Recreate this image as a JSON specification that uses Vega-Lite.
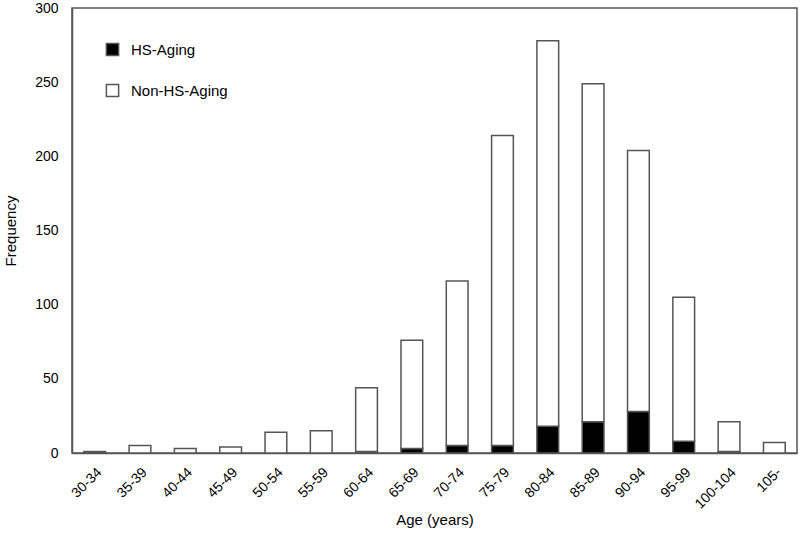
{
  "$schema": "https://vega.github.io/schema/vega-lite/v6.json",
  "autosize": "none",
  "padding": {"left": 72, "top": 8, "right": 3, "bottom": 84},
  "width": 725,
  "height": 445,
  "background": "white",
  "config": {
    "font": "Liberation Sans",
    "view": {"stroke": "#555", "strokeWidth": 1.5},
    "axis": {"domainColor": "#555", "domainWidth": 1.5, "ticks": false, "grid": false, "labelColor": "black", "titleColor": "black", "titleFontWeight": "normal", "labelFont": "Liberation Sans", "titleFont": "Liberation Sans"}
  },
  "data": {"values": [
    {"age": "30-34", "group": "HS-Aging", "n": 0},
    {"age": "30-34", "group": "Non-HS-Aging", "n": 1},
    {"age": "35-39", "group": "HS-Aging", "n": 0},
    {"age": "35-39", "group": "Non-HS-Aging", "n": 5},
    {"age": "40-44", "group": "HS-Aging", "n": 0},
    {"age": "40-44", "group": "Non-HS-Aging", "n": 3},
    {"age": "45-49", "group": "HS-Aging", "n": 0},
    {"age": "45-49", "group": "Non-HS-Aging", "n": 4},
    {"age": "50-54", "group": "HS-Aging", "n": 0},
    {"age": "50-54", "group": "Non-HS-Aging", "n": 14},
    {"age": "55-59", "group": "HS-Aging", "n": 0},
    {"age": "55-59", "group": "Non-HS-Aging", "n": 15},
    {"age": "60-64", "group": "HS-Aging", "n": 1},
    {"age": "60-64", "group": "Non-HS-Aging", "n": 43},
    {"age": "65-69", "group": "HS-Aging", "n": 3},
    {"age": "65-69", "group": "Non-HS-Aging", "n": 73},
    {"age": "70-74", "group": "HS-Aging", "n": 5},
    {"age": "70-74", "group": "Non-HS-Aging", "n": 111},
    {"age": "75-79", "group": "HS-Aging", "n": 5},
    {"age": "75-79", "group": "Non-HS-Aging", "n": 209},
    {"age": "80-84", "group": "HS-Aging", "n": 18},
    {"age": "80-84", "group": "Non-HS-Aging", "n": 260},
    {"age": "85-89", "group": "HS-Aging", "n": 21},
    {"age": "85-89", "group": "Non-HS-Aging", "n": 228},
    {"age": "90-94", "group": "HS-Aging", "n": 28},
    {"age": "90-94", "group": "Non-HS-Aging", "n": 176},
    {"age": "95-99", "group": "HS-Aging", "n": 8},
    {"age": "95-99", "group": "Non-HS-Aging", "n": 97},
    {"age": "100-104", "group": "HS-Aging", "n": 1},
    {"age": "100-104", "group": "Non-HS-Aging", "n": 20},
    {"age": "105-", "group": "HS-Aging", "n": 0},
    {"age": "105-", "group": "Non-HS-Aging", "n": 7}
  ]},
  "mark": {"type": "bar", "stroke": "#555", "strokeWidth": 1.5},
  "encoding": {
    "x": {
      "field": "age", "type": "nominal", "sort": null,
      "scale": {"paddingInner": 0.52, "paddingOuter": 0.26},
      "axis": {"title": "Age (years)", "labelAngle": -45, "labelFontSize": 14, "labelPadding": 12, "titleFontSize": 15, "titlePadding": 1}
    },
    "y": {
      "field": "n", "type": "quantitative", "stack": "zero",
      "scale": {"domain": [0, 300], "nice": false},
      "axis": {"title": "Frequency", "values": [0, 50, 100, 150, 200, 250, 300], "labelFontSize": 14, "labelPadding": 14, "titleFontSize": 15, "titlePadding": 16}
    },
    "color": {
      "field": "group", "type": "nominal",
      "scale": {"domain": ["HS-Aging", "Non-HS-Aging"], "range": ["black", "white"]},
      "legend": {"title": null, "orient": "none", "legendX": 33, "legendY": 34, "symbolType": "square", "symbolSize": 150, "symbolStrokeColor": "#555", "symbolStrokeWidth": 1.5, "labelFontSize": 15, "labelOffset": 11, "rowPadding": 22, "labelColor": "black"}
    },
    "order": {"field": "group", "sort": "ascending"}
  }
}
